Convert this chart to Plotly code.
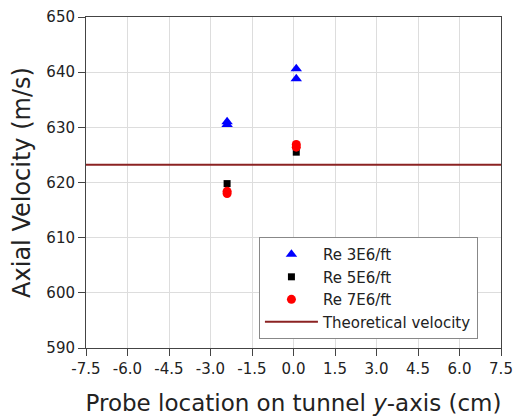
import plotly.graph_objects as go

x_tick_vals = [-7.5, -6.0, -4.5, -3.0, -1.5, 0.0, 1.5, 3.0, 4.5, 6.0, 7.5]
y_tick_vals = [590, 600, 610, 620, 630, 640, 650]

re3_x = [-2.4, -2.4, 0.1, 0.1]
re3_y = [631.0, 630.5, 640.6, 638.8]
re5_x = [-2.4, 0.1]
re5_y = [619.8, 625.5]
re7_x = [-2.4, -2.4, 0.1, 0.1]
re7_y = [618.4, 618.0, 626.9, 626.4]
theory_x = [-7.5, 7.5]
theory_y = [623.2, 623.2]

font = "DejaVu Sans, Liberation Sans, Arial, sans-serif"

fig = go.Figure()
fig.add_trace(go.Scatter(x=re3_x, y=re3_y, mode="markers", name="Re 3E6/ft",
                         marker=dict(symbol="triangle-up", color="#0000ff", size=10)))
fig.add_trace(go.Scatter(x=re5_x, y=re5_y, mode="markers", name="Re 5E6/ft",
                         marker=dict(symbol="square", color="#000000", size=7)))
fig.add_trace(go.Scatter(x=re7_x, y=re7_y, mode="markers", name="Re 7E6/ft",
                         marker=dict(symbol="circle", color="#ff0000", size=9)))
fig.add_trace(go.Scatter(x=theory_x, y=theory_y, mode="lines", name="Theoretical velocity",
                         line=dict(color="#8b2222", width=2)))

fig.update_layout(
    width=515, height=419,
    margin=dict(l=86, r=14, t=17, b=71),
    paper_bgcolor="white", plot_bgcolor="white",
    font=dict(family=font, size=15, color="#222"),
    legend=dict(x=0.4167, y=0.027, xanchor="left", yanchor="bottom",
                bgcolor="white", bordercolor="#888", borderwidth=1,
                font=dict(size=15), tracegroupgap=0, itemwidth=53),
    showlegend=True,
)
axis_common = dict(showgrid=True, gridcolor="#dddddd", gridwidth=1,
                   showline=True, linecolor="#444", linewidth=1, mirror=True,
                   ticks="outside", ticklen=7, tickcolor="#444", zeroline=False,
                   automargin=False, tickfont=dict(size=15))
fig.update_xaxes(range=[-7.5, 7.5], tickvals=x_tick_vals,
                 ticktext=[f"{v:.1f}" for v in x_tick_vals],
                 title=dict(text="Probe location on tunnel <i>y</i>-axis (cm)",
                            font=dict(size=23), standoff=17),
                 **axis_common)
fig.update_yaxes(range=[590, 650], tickvals=y_tick_vals,
                 title=dict(text="Axial Velocity (m/s)", font=dict(size=24), standoff=8),
                 **axis_common)

fig.write_html("out.html")
